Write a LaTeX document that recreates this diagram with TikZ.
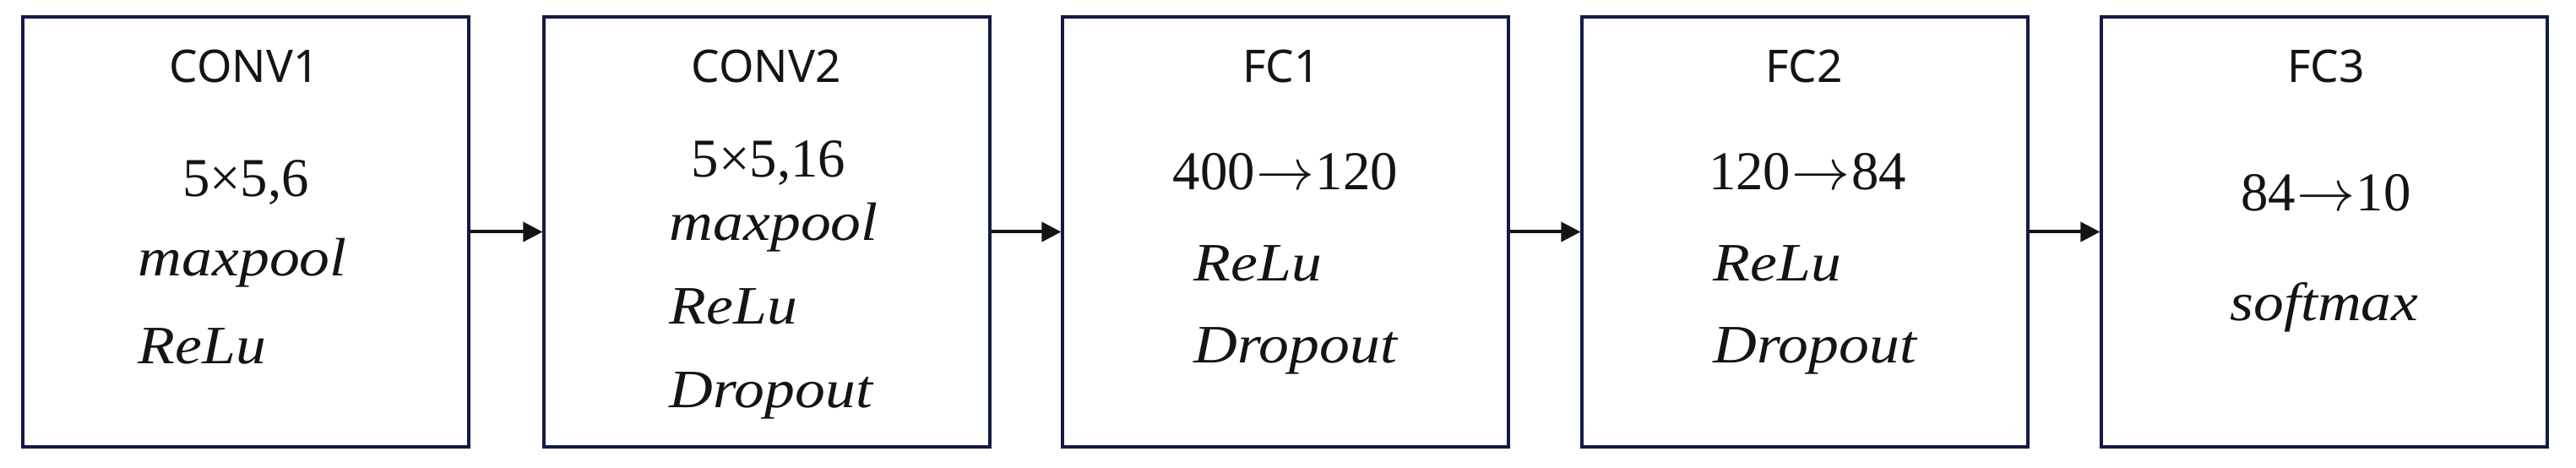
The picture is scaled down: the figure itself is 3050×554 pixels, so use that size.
\documentclass[tikz,border=0pt]{standalone}
\usepackage{fontspec}
\setmainfont{Liberation Serif}
\newfontfamily\titlefont{Noto Sans}
\newfontfamily\opsfont[FakeStretch=1.12]{Liberation Serif}
\usetikzlibrary{arrows.meta}
\definecolor{boxline}{RGB}{20,25,70}
\definecolor{ink}{RGB}{20,20,20}
\newcommand{\yields}{\kern0.02em$\mathord{\rightarrow}$\kern0.02em}
\tikzset{
  layer/.style={draw=boxline, line width=0.8pt, minimum width=132pt, minimum height=127.25pt, inner sep=0pt, fill=white},
  ttl/.style={font=\titlefont\fontsize{13.3}{16}\selectfont, text=ink, anchor=base, inner sep=0pt},
  dims/.style={font=\fontsize{16.2}{20}\selectfont, text=ink, anchor=base, inner sep=0pt},
  ops/.style={font=\opsfont\itshape\fontsize{16}{19}\selectfont, text=ink, anchor=base west, inner sep=0pt},
  link/.style={draw=ink, line width=1pt, -{Triangle[length=5.75pt,width=5.75pt]}},
}
\begin{document}
\begin{tikzpicture}[x=0.25pt,y=-0.25pt]
\useasboundingbox (0,0) rectangle (3050,554);
% boxes
\node[layer] (b1) at (291,274.5) {};
\node[layer] (b2) at (908,274.5) {};
\node[layer] (b3) at (1522,274.5) {};
\node[layer] (b4) at (2137,274.5) {};
\node[layer] (b5) at (2752,274.5) {};
% box 1
\node[ttl] (t1) at (289,98) {CONV1};
\node[dims] (d1) at (291,233) {5×5,6};
\node[ops] (m1) at (163,327) {maxpool};
\node[ops] (r1) at (163,431) {ReLu};
% box 2
\node[ttl] (t2) at (907,98) {CONV2};
\node[dims] (d2) at (910,210) {5×5,16};
\node[ops] (m2) at (792,285) {maxpool};
\node[ops] (r2) at (792,384) {ReLu};
\node[ops] (p2) at (792,483) {Dropout};
% box 3
\node[ttl] (t3) at (1517,98) {FC1};
\node[dims] (d3) at (1522,225) {400\yields120};
\node[ops] (r3) at (1413,333) {ReLu};
\node[ops] (p3) at (1413,430) {Dropout};
% box 4
\node[ttl] (t4) at (2136,98) {FC2};
\node[dims] (d4) at (2140,225) {120\yields84};
\node[ops] (r4) at (2028,333) {ReLu};
\node[ops] (p4) at (2028,430) {Dropout};
% box 5
\node[ttl] (t5) at (2754,98) {FC3};
\node[dims] (d5) at (2754,250) {84\yields10};
\node[ops, anchor=base] (s5) at (2752,380) {softmax};
% connectors
\draw[link] (b1.east) -- (b2.west);
\draw[link] (b2.east) -- (b3.west);
\draw[link] (b3.east) -- (b4.west);
\draw[link] (b4.east) -- (b5.west);
\end{tikzpicture}
\end{document}
